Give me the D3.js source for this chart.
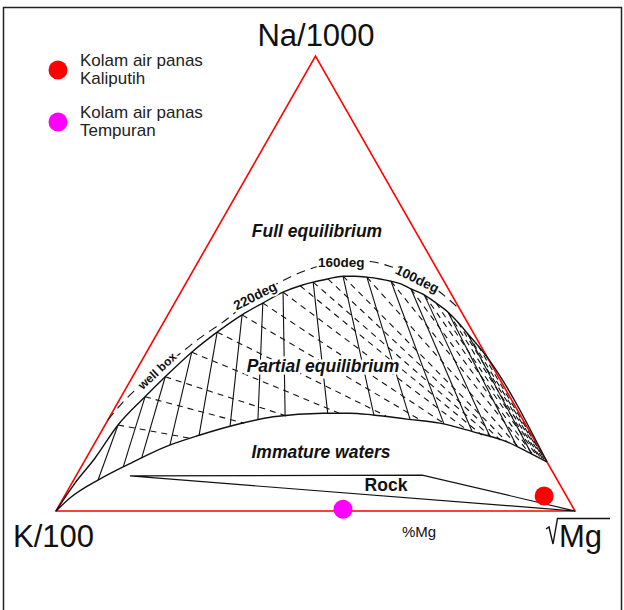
<!DOCTYPE html>
<html><head><meta charset="utf-8">
<script src="https://cdn.jsdelivr.net/npm/d3@7"></script>
<style>body{margin:0;background:#fff}svg{display:block}</style>
</head><body>
<script>
// Ternary compositions as [Na%, Mg%]  (K% = 100 - Na - Mg)
const apexLabels = ["Na/1000", "K/100", "Mg"];
const triangle = [[0, 0], [100, 0], [0, 100]]; // K corner, Na corner, Mg corner

const fullEquilibrium = [[0,0],[6.2,0.6],[11.6,1.7],[18.9,2.5],[25.1,4.6],[29.5,6.3],[34.9,8.7],[39.3,11.4],
  [43.1,14.3],[45.7,17.0],[48.1,19.7],[49.5,22.3],[50.3,24.4],[51.0,26.9],[51.6,29.5],[51.6,31.8],[51.4,34.2],
  [51.0,36.9],[50.5,39.3],[49.9,41.5],[48.8,44.0],[47.5,47.2],[45.7,50.4],[43.7,53.7],[41.5,56.7],[38.9,59.9],
  [36.3,63.2],[33.6,66.4],[10.8,89.2]];

const immatureLimit = [[0,0],[2.9,1.3],[6.8,4.7],[10.8,9.5],[14.1,14.0],[16.7,19.4],[18.9,25.0],[20.7,31.5],
  [21.5,40.7],[21.5,45.9],[21.1,50.5],[20.2,57.5],[19.3,64.3],[17.4,71.7],[15.2,79.3],[12.7,85.0],[10.8,89.2]];

const wellBoxLine = [[20.0,0],[24.4,1.1],[28.1,2.7],[31.4,4.3],[34.3,6.4],[38.0,8.7],[41.5,11.4],[47.0,14.8],
  [50.3,18.0],[53.0,21.9],[54.7,27.4],[54.9,32.1],[53.8,37.4],[51.4,43.5],[48.6,49.1],[44.2,55.8]];

// K-Mg isotherms (solid)
const kmgIsotherms = [
  [[18.9,2.5],[6.8,4.7]],[[25.1,4.6],[9.7,8.1]],[[29.5,6.3],[11.6,10.7]],[[34.9,8.7],[14.5,14.7]],
  [[39.3,11.4],[16.5,19.3]],[[43.1,14.3],[18.7,24.2]],[[45.7,17.0],[20.0,28.9]],[[48.1,19.7],[20.9,33.7]],
  [[50.3,24.4],[21.5,41.6]],[[51.6,29.5],[21.1,50.7]],[[51.4,34.2],[20.2,58.1]],[[50.5,39.3],[19.1,65.2]],
  [[48.8,44.0],[17.4,71.5]],[[47.5,47.2],[16.3,75.5]],[[43.7,53.7],[14.1,81.8]],[[38.9,59.9],[12.5,85.4]]];

// Na-K isotherms (dashed)
const nakIsotherms = [
  [[18.9,2.5],[16.0,17.8]],[[25.1,4.6],[19.3,26.6]],[[29.5,6.3],[20.9,33.9]],[[34.9,8.7],[21.5,43.8]],
  [[39.3,11.4],[20.9,53.1]],[[43.1,14.3],[19.8,60.6]],[[45.7,17.0],[19.1,65.4]],[[48.1,19.7],[17.8,70.3]],
  [[49.5,22.3],[16.7,73.7]],[[50.3,24.4],[16.3,75.7]],[[51.0,26.9],[15.6,77.8]],[[51.6,29.5],[15.2,79.3]],
  [[51.4,34.2],[14.1,82.0]],[[50.5,39.3],[13.0,84.5]],[[48.8,44.0],[12.3,85.8]],[[47.5,47.2],[12.1,86.6]],
  [[45.7,50.4],[11.9,87.1]],[[43.7,53.7],[11.6,87.6]],[[41.5,56.7],[11.4,88.1]],[[38.9,59.9],[11.4,88.3]],
  [[36.3,63.2],[11.2,88.6]]];

const rockField = [[7.7,10.4],[7.9,66.6],[0,100]];

const tempLabels = ["well box", "220deg", "160deg", "100deg"];
const tempLabelPos = [[30.8,4.1],[47.3,14.7],[54.7,27.6],[51.0,44.1]];

const sampleNames = [["Kolam air panas","Kaliputih"],["Kolam air panas","Tempuran"]];
const sampleValues = [[3.3,92.4],[0.4,55.1]];
const sampleColors = ["#ff0000","#ff00ff"];

const W = 624, H = 610;
const FONT = "'Liberation Sans', Arial, Helvetica, sans-serif";
const svg = d3.select("body").append("svg").attr("width", W).attr("height", H)
  .style("font-family", FONT);

const x = d3.scaleLinear().domain([0, 100]).range([56, 575]);
const y = d3.scaleLinear().domain([0, 100]).range([511, 56]);
const proj = d => [x(d[1] + d[0] / 2), y(d[0])];

// frame
svg.append("path").attr("d", `M3.5,${H+5}V7.5H621.5V${H+5}`)
  .attr("fill", "none").attr("stroke", "#222").attr("stroke-width", 1.5);

// triangle
svg.append("path").attr("d", "M" + triangle.map(proj).join("L") + "Z")
  .attr("fill", "none").attr("stroke", "#f00").attr("stroke-width", 1.6);

const curve = d3.line().x(d => proj(d)[0]).y(d => proj(d)[1]).curve(d3.curveMonotoneX);
const straight = d3.line().x(d => proj(d)[0]).y(d => proj(d)[1]);

// isotherms
svg.append("g").selectAll("path").data(nakIsotherms).join("path")
  .attr("d", straight).attr("fill", "none").attr("stroke", "#111").attr("stroke-width", 1.1)
  .attr("stroke-dasharray", "6,5");
svg.append("g").selectAll("path").data(kmgIsotherms).join("path")
  .attr("d", straight).attr("fill", "none").attr("stroke", "#111").attr("stroke-width", 1.1);

// main curves
svg.append("path").datum(fullEquilibrium).attr("d", curve)
  .attr("fill", "none").attr("stroke", "#111").attr("stroke-width", 1.4);
svg.append("path").datum(immatureLimit).attr("d", curve)
  .attr("fill", "none").attr("stroke", "#111").attr("stroke-width", 1.4);
svg.append("path").datum(wellBoxLine).attr("d", curve)
  .attr("fill", "none").attr("stroke", "#111").attr("stroke-width", 1.1)
  .attr("stroke-dasharray", "9,6");

// rock field
svg.append("path").attr("d", "M" + rockField.map(proj).join("L") + "Z")
  .attr("fill", "none").attr("stroke", "#111").attr("stroke-width", 1.2);

// temperature labels
const rot = [-43, -27, 0, 26];
svg.append("g").selectAll("text").data(tempLabels).join("text")
  .attr("transform", (d, i) => { const p = proj(tempLabelPos[i]); return `translate(${p[0]},${p[1]}) rotate(${rot[i]})`; })
  .attr("text-anchor", "middle").attr("dy", "0.35em")
  .attr("font-size", (d, i) => i === 0 ? 12 : 13.5).attr("font-weight", "bold")
  .attr("fill", "#111").attr("stroke", "#fff").attr("stroke-width", 4).attr("paint-order", "stroke")
  .text(d => d);

// region labels
const reg = [
  {t: "Full equilibrium", x: 317, y: 237, it: true, halo: false},
  {t: "Partial equilibrium", x: 323, y: 372, it: true, halo: true},
  {t: "Immature waters", x: 321, y: 458, it: true, halo: false},
  {t: "Rock", x: 386, y: 491, it: false, halo: false}
];
svg.append("g").selectAll("text").data(reg).join("text")
  .attr("x", d => d.x).attr("y", d => d.y).attr("text-anchor", "middle")
  .attr("font-size", 17.5).attr("font-weight", "bold")
  .attr("font-style", d => d.it ? "italic" : "normal").attr("fill", "#111")
  .attr("stroke", d => d.halo ? "#fff" : "none").attr("stroke-width", 5).attr("paint-order", "stroke")
  .text(d => d.t);

// axis-corner labels
svg.append("text").attr("x", 316).attr("y", 46).attr("text-anchor", "middle")
  .attr("font-size", 31).attr("fill", "#111").text(apexLabels[0]);
svg.append("text").attr("x", 13).attr("y", 547).attr("font-size", 31).attr("fill", "#111").text(apexLabels[1]);
svg.append("text").attr("x", 559).attr("y", 547).attr("font-size", 31).attr("fill", "#111").text(apexLabels[2]);
svg.append("path").attr("d", "M546,529L549,527L553,544L557.5,518.5H610")
  .attr("fill", "none").attr("stroke", "#111").attr("stroke-width", 1.4);
svg.append("text").attr("x", 419).attr("y", 537).attr("text-anchor", "middle")
  .attr("font-size", 15).attr("fill", "#111").text("%Mg");

// samples
svg.append("g").selectAll("circle").data(sampleValues).join("circle")
  .attr("cx", d => proj(d)[0]).attr("cy", d => proj(d)[1]).attr("r", 9.5)
  .attr("fill", (d, i) => sampleColors[i]);

// legend
const lg = svg.append("g").selectAll("g").data(sampleNames).join("g")
  .attr("transform", (d, i) => `translate(58,${70 + i * 52})`);
lg.append("circle").attr("r", 9.5).attr("fill", (d, i) => sampleColors[i]);
lg.append("text").attr("x", 22).attr("y", -4).attr("font-size", 17).attr("fill", "#222")
  .selectAll("tspan").data(d => d).join("tspan")
  .attr("x", 22).attr("dy", (d, i) => i ? 17.5 : 0).text(d => d);
</script>
</body></html>
